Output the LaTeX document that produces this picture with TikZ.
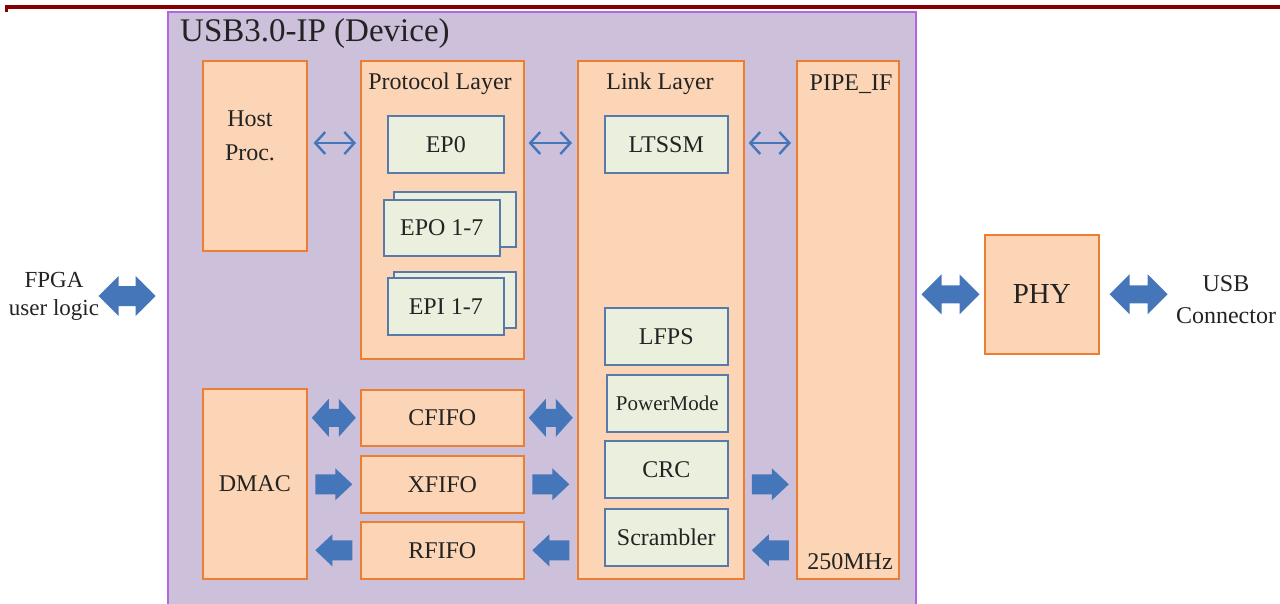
\documentclass[tikz,border=0pt]{standalone}
\usepackage{fontspec}
\setmainfont{Liberation Serif}
\usetikzlibrary{calc,arrows.meta}
\definecolor{purplefill}{RGB}{205,192,219}
\definecolor{purpleedge}{RGB}{178,102,224}
\definecolor{peach}{RGB}{251,213,181}
\definecolor{orangeedge}{RGB}{237,125,49}
\definecolor{mint}{RGB}{235,240,222}
\definecolor{steeledge}{RGB}{88,122,168}
\definecolor{arrowblue}{RGB}{70,118,186}
\definecolor{darkred}{RGB}{135,0,0}
\definecolor{textgray}{RGB}{35,35,35}
\tikzset{
  box/.style={draw=orangeedge, fill=peach, line width=1.6pt, anchor=north west, inner sep=0pt,
    font=\fontsize{24}{28}\selectfont, text=textgray},
  subbox/.style={draw=steeledge, fill=mint, line width=1.6pt, anchor=north west, inner sep=0pt,
    font=\fontsize{24}{28}\selectfont, text=textgray},
  lbl/.style={font=\fontsize{24}{30}\selectfont, text=textgray, inner sep=0pt, align=center},
  thinarrow/.style={draw=arrowblue, line width=2.4pt,
    {Straight Barb[length=10pt,width=22pt]}-{Straight Barb[length=10pt,width=22pt]}},
  pics/dbl/.style n args={4}{code={
    \fill[arrowblue] (-#1/2,0) -- (-#1/2+#4,#2/2) -- (-#1/2+#4,#3) -- (#1/2-#4,#3) -- (#1/2-#4,#2/2)
      -- (#1/2,0) -- (#1/2-#4,-#2/2) -- (#1/2-#4,-#3) -- (-#1/2+#4,-#3) -- (-#1/2+#4,-#2/2) -- cycle;
  }},
  pics/rarr/.style n args={4}{code={
    \fill[arrowblue] (-#1/2,-#3) -- (#1/2-#4,-#3) -- (#1/2-#4,-#2/2) -- (#1/2,0) -- (#1/2-#4,#2/2)
      -- (#1/2-#4,#3) -- (-#1/2,#3) -- cycle;
  }},
}
\begin{document}
\begin{tikzpicture}[x=1pt,y=-1pt]
\useasboundingbox[fill=white] (0,0) rectangle (1280,603);
% top rule
\fill[darkred] (5,5) rectangle (1280,9);
\fill[darkred] (5,9) rectangle (8,12);
% IP container
\node[draw=purpleedge, fill=purplefill, line width=2pt, anchor=north west, inner sep=0pt,
      minimum width=748pt, minimum height=610pt] (ip) at (167,11) {};
\node[anchor=west, inner sep=0pt, text=textgray, font=\fontsize{33}{36}\selectfont] (title) at (180,34) {USB3.0-IP (Device)};
% main blocks
\node[box, minimum width=104pt, minimum height=190pt] (host) at (202,60) {};
\node[lbl, font=\fontsize{24}{34}\selectfont] (hostlbl) at (250,136) {Host\\Proc.};
\node[box, minimum width=163pt, minimum height=298pt] (proto) at (360,60) {};
\node[lbl] (protolbl) at (440,84) {Protocol Layer};
\node[subbox, minimum width=116pt, minimum height=57pt] (ep0) at (387,115) {EP0};
\node[subbox, minimum width=122pt, minimum height=55pt] (epob) at (393,191) {};
\node[subbox, minimum width=116pt, minimum height=56pt] (epo) at (383,199) {EPO 1-7};
\node[subbox, minimum width=122pt, minimum height=56pt] (epib) at (393,271) {};
\node[subbox, minimum width=116pt, minimum height=57pt] (epi) at (387,277) {EPI 1-7};
\node[box, minimum width=166pt, minimum height=518pt] (link) at (577,60) {};
\node[lbl] (linklbl) at (660,84) {Link Layer};
\node[subbox, minimum width=123pt, minimum height=57pt] (ltssm) at (604,115) {LTSSM};
\node[subbox, minimum width=123pt, minimum height=57pt] (lfps) at (604,307) {LFPS};
\node[subbox, minimum width=121pt, minimum height=57pt, font=\fontsize{21}{24}\selectfont] (pm) at (606,374) {PowerMode};
\node[subbox, minimum width=123pt, minimum height=57pt] (crc) at (604,440) {CRC};
\node[subbox, minimum width=123pt, minimum height=57pt] (scr) at (604,508) {Scrambler};
\node[box, minimum width=102pt, minimum height=518pt] (pipe) at (796,60) {};
\node[lbl] (pipelbl) at (851,84) {PIPE\_IF};
\node[lbl] (mhz) at (850,562) {250MHz};
\node[box, minimum width=104pt, minimum height=190pt] (dmac) at (202,388) {DMAC};
\node[box, minimum width=163pt, minimum height=56pt] (cfifo) at (360,389) {CFIFO};
\node[box, minimum width=163pt, minimum height=57pt] (xfifo) at (360,455) {XFIFO};
\node[box, minimum width=163pt, minimum height=57pt] (rfifo) at (360,521) {RFIFO};
\node[box, minimum width=114pt, minimum height=119pt, font=\fontsize{29}{32}\selectfont] (phy) at (984,234) {PHY};
% outside labels
\node[lbl, font=\fontsize{23}{28}\selectfont] (fpga) at (54,296) {FPGA\\user logic};
\node[lbl, font=\fontsize{24}{32}\selectfont] (usb) at (1226,300) {USB\\Connector};
% thin double arrows
\draw[thinarrow] ($(host.north east)+(6,83)$) -- ($(proto.north west)+(-4,83)$);
\draw[thinarrow] ($(proto.north east)+(4,83)$) -- ($(link.north west)+(-5,83)$);
\draw[thinarrow] ($(link.north east)+(4,83)$) -- ($(pipe.north west)+(-5,83)$);
% block arrows
\pic at ($(fpga.east)+(28,0)$) {dbl={57}{40}{10}{20}};
\pic at ($(dmac.east |- cfifo.west)!0.5!(cfifo.west)$) {dbl={44}{38}{9}{17}};
\pic at ($(cfifo.east)!0.5!(link.west |- cfifo.east)$) {dbl={44}{38}{9}{17}};
\pic at ($(dmac.east |- xfifo.west)!0.5!(xfifo.west)$) {rarr={37}{32}{10}{17}};
\pic at ($(xfifo.east)!0.5!(link.west |- xfifo.east)$) {rarr={37}{32}{10}{17}};
\pic[xscale=-1] at ($(dmac.east |- rfifo.west)!0.5!(rfifo.west)$) {rarr={37}{32}{10}{17}};
\pic[xscale=-1] at ($(rfifo.east)!0.5!(link.west |- rfifo.east)$) {rarr={37}{32}{10}{17}};
\pic at ($(link.east |- xfifo.east)!0.5!(pipe.west |- xfifo.east)$) {rarr={37}{32}{10}{17}};
\pic[xscale=-1] at ($(link.east |- rfifo.east)!0.5!(pipe.west |- rfifo.east)$) {rarr={37}{32}{10}{17}};
\pic at ($(ip.east |- phy.west)!0.5!(phy.west)$) {dbl={58}{40}{9}{20}};
\pic at ($(phy.east)+(39,0)$) {dbl={58}{40}{9}{20}};
\end{tikzpicture}
\end{document}
